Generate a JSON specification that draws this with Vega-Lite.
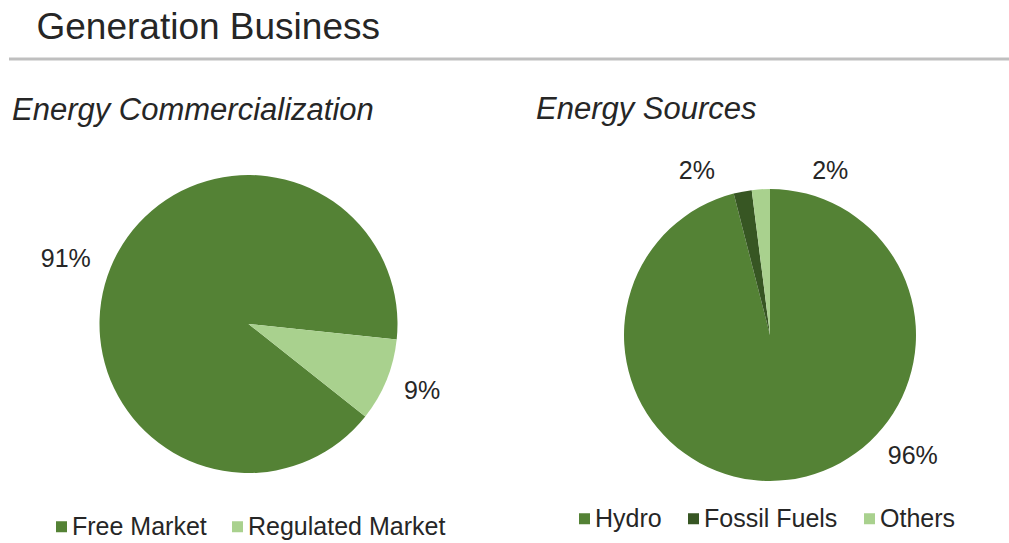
{
  "$schema": "https://vega.github.io/schema/vega-lite/v6.json",
  "padding": {"left": 7, "top": 8, "right": 0, "bottom": 0},
  "background": "white",
  "title": {"text": "Generation Business", "anchor": "start", "dx": 29, "fontSize": 37, "fontWeight": "normal", "color": "#262626", "font": "Liberation Sans", "offset": 11},
  "config": {"view": {"stroke": null}},
  "spacing": 32,
  "vconcat": [
    {
      "width": 1002,
      "height": 1,
      "data": {"values": [{"line": "divider"}]},
      "mark": {"type": "rule", "color": "#bfbfbf", "strokeWidth": 3},
      "encoding": {"x": {"value": 0}, "x2": {"value": "width"}, "y": {"value": 0}}
    },
    {
      "spacing": 42,
      "resolve": {"scale": {"color": "independent", "theta": "independent"}, "legend": {"color": "independent"}},
      "hconcat": [
        {
          "width": 479,
          "height": 316,
          "title": {"text": "Energy Commercialization", "anchor": "start", "dx": 3, "fontSize": 31, "fontStyle": "italic", "fontWeight": "normal", "offset": 39, "color": "#262626", "font": "Liberation Sans"},
          "data": {"values": [
            {"market": "Free Market", "share": 91, "label": "91%", "rank": 2},
            {"market": "Regulated Market", "share": 9, "label": "9%", "rank": 1}
          ]},
          "encoding": {
            "theta": {"field": "share", "type": "quantitative", "stack": true, "scale": {"range": [1.6755, 7.9587]}},
            "order": {"field": "rank", "type": "quantitative"}
          },
          "layer": [
            {
              "mark": {"type": "arc", "outerRadius": 149, "strokeWidth": 0},
              "encoding": {
                "color": {"field": "market", "type": "nominal",
                  "scale": {"domain": ["Free Market", "Regulated Market"], "range": ["#548235", "#A9D18E"]},
                  "legend": {"orient": "none", "legendX": 40, "legendY": 348, "direction": "horizontal", "title": null, "symbolType": "square", "symbolSize": 121, "symbolStrokeWidth": 0, "labelFontSize": 25, "labelFont": "Liberation Sans", "labelColor": "#262626", "labelOffset": -2, "columnPadding": 18, "labelLimit": 0}}
              }
            },
            {
              "mark": {"type": "text", "radius": 194, "thetaOffset": -0.045, "fontSize": 25, "font": "Liberation Sans", "fill": "#262626"},
              "encoding": {"detail": {"field": "market", "type": "nominal"}, "text": {"condition": {"test": "datum.market === 'Free Market'", "field": "label", "type": "nominal"}, "value": ""}}
            },
            {
              "mark": {"type": "text", "radius": 186, "thetaOffset": -0.02, "fontSize": 25, "font": "Liberation Sans", "fill": "#262626"},
              "encoding": {"detail": {"field": "market", "type": "nominal"}, "text": {"condition": {"test": "datum.market === 'Regulated Market'", "field": "label", "type": "nominal"}, "value": ""}}
            }
          ]
        },
        {
          "width": 480,
          "height": 338,
          "title": {"text": "Energy Sources", "anchor": "start", "dx": 6, "fontSize": 31, "fontStyle": "italic", "fontWeight": "normal", "offset": 25, "color": "#262626", "font": "Liberation Sans"},
          "data": {"values": [
            {"source": "Hydro", "share": 96, "label": "96%", "rank": 1},
            {"source": "Fossil Fuels", "share": 2, "label": "2%", "rank": 2},
            {"source": "Others", "share": 2, "label": "2%", "rank": 3}
          ]},
          "encoding": {
            "theta": {"field": "share", "type": "quantitative", "stack": true},
            "order": {"field": "rank", "type": "quantitative"}
          },
          "layer": [
            {
              "mark": {"type": "arc", "outerRadius": 146, "strokeWidth": 0},
              "encoding": {
                "color": {"field": "source", "type": "nominal",
                  "scale": {"domain": ["Hydro", "Fossil Fuels", "Others"], "range": ["#548235", "#375623", "#A9D18E"]},
                  "legend": {"orient": "none", "legendX": 42, "legendY": 340, "direction": "horizontal", "title": null, "symbolType": "square", "symbolSize": 121, "symbolStrokeWidth": 0, "labelFontSize": 25, "labelFont": "Liberation Sans", "labelColor": "#262626", "labelOffset": -2, "columnPadding": 19, "labelLimit": 0}}
              }
            },
            {
              "mark": {"type": "text", "radius": 187, "thetaOffset": -0.743, "fontSize": 25, "font": "Liberation Sans", "fill": "#262626"},
              "encoding": {"detail": {"field": "source", "type": "nominal"}, "text": {"condition": {"test": "datum.source === 'Hydro'", "field": "label", "type": "nominal"}, "value": ""}}
            },
            {
              "mark": {"type": "text", "radius": 180, "thetaOffset": -0.23, "fontSize": 25, "font": "Liberation Sans", "fill": "#262626"},
              "encoding": {"detail": {"field": "source", "type": "nominal"}, "text": {"condition": {"test": "datum.source === 'Fossil Fuels'", "field": "label", "type": "nominal"}, "value": ""}}
            },
            {
              "mark": {"type": "text", "radius": 175, "thetaOffset": 0.414, "fontSize": 25, "font": "Liberation Sans", "fill": "#262626"},
              "encoding": {"detail": {"field": "source", "type": "nominal"}, "text": {"condition": {"test": "datum.source === 'Others'", "field": "label", "type": "nominal"}, "value": ""}}
            }
          ]
        }
      ]
    }
  ]
}
